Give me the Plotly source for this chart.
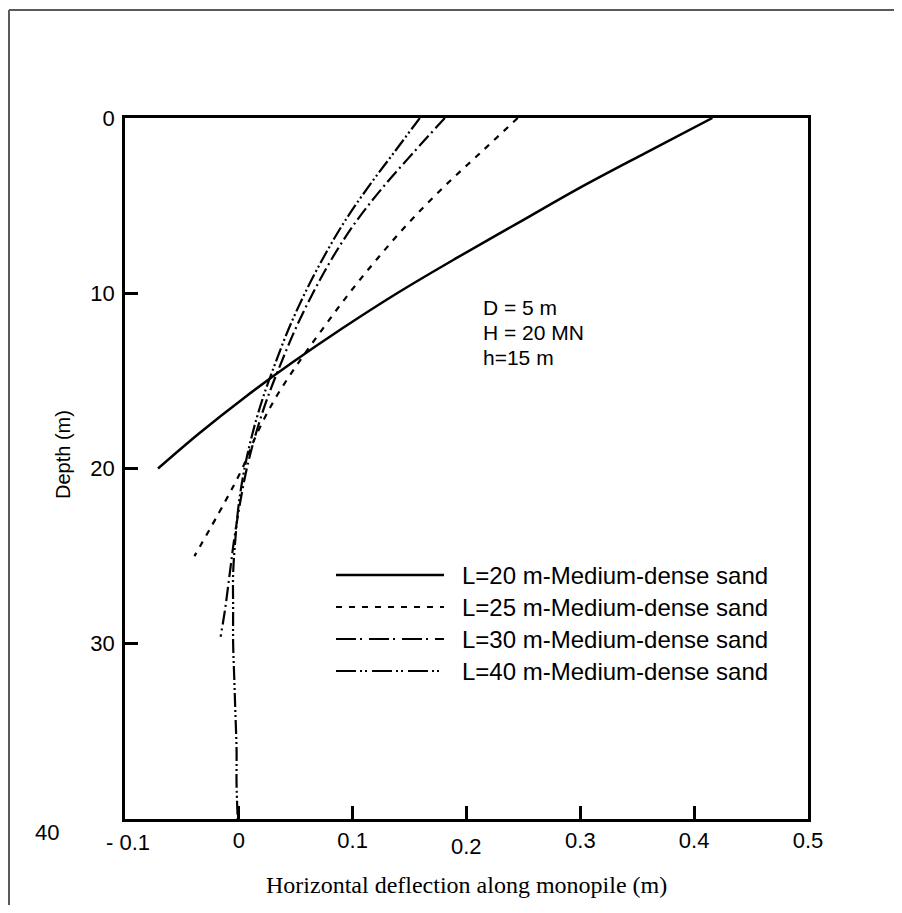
import plotly.graph_objects as go

# ---- data ----
depth_L20 = [0, 2, 4, 6, 8, 10, 12, 14, 16, 18, 20]
defl_L20 = [0.416, 0.357, 0.299, 0.245, 0.191, 0.139, 0.091, 0.046, 0.004, -0.035, -0.071]

depth_L25 = [0, 2, 4, 6, 8, 10, 12, 14, 16, 18, 20, 22, 25]
defl_L25 = [0.245, 0.212, 0.179, 0.149, 0.122, 0.097, 0.074, 0.052, 0.032, 0.016, 0.003, -0.013, -0.039]

depth_L30 = [0, 2, 4, 6, 8, 10, 12, 14, 16, 18, 20, 22, 24, 26, 28, 29.6]
defl_L30 = [0.181, 0.153, 0.126, 0.102, 0.082, 0.065, 0.050, 0.037, 0.025, 0.015, 0.007, 0.001,
            -0.004, -0.008, -0.012, -0.016]

depth_L40 = [0, 2, 4, 6, 8, 10, 12, 14, 16, 18, 20, 22, 24, 26, 28, 30, 32, 34, 36, 38, 40]
defl_L40 = [0.159, 0.136, 0.113, 0.092, 0.074, 0.058, 0.044, 0.032, 0.021, 0.012, 0.005, 0.000,
            -0.003, -0.005, -0.005, -0.005, -0.004, -0.003, -0.002, -0.002, -0.001]

series_names = ["L=20 m-Medium-dense sand", "L=25 m-Medium-dense sand",
                "L=30 m-Medium-dense sand", "L=40 m-Medium-dense sand"]

x_tickvals = [-0.1, 0, 0.1, 0.2, 0.3, 0.4, 0.5]
x_ticktext = ["", "0", "0.1", "", "0.3", "0.4", "0.5"]
y_tickvals = [0, 10, 20, 30, 40]
y_ticktext = ["0", "10", "20", "30", ""]

info_lines = ["D = 5 m", "H = 20 MN", "h=15 m"]

# ---- figure (page body has an 8px margin, so figure = window - 16) ----
W, H = 886, 897
L, T = 117, 110
pw, ph = 683, 701
R, B = W - L - pw, H - T - ph
OFF = 8


def px2paper_x(px):
    return (px - OFF - L) / pw


def px2paper_y(py):
    return (H - B - (py - OFF)) / ph


dashes = ["solid", "6px,7px", "14px,4px,2px,4px", "14px,3px,2px,3px,2px,3px"]
legend_dashes = ["solid", "6px,7px", "20px,4px,2px,7px", "20px,4px,2px,3px,2px,5px"]
widths = [2.5, 2.2, 2.2, 2.2]

fig = go.Figure()
for xs, ys, name, dsh, w in zip([defl_L20, defl_L25, defl_L30, defl_L40],
                                [depth_L20, depth_L25, depth_L30, depth_L40],
                                series_names, dashes, widths):
    fig.add_trace(go.Scatter(x=xs, y=ys, mode="lines", name=name, showlegend=False,
                             line=dict(color="black", width=w, dash=dsh, shape="spline")))

shapes = []
annotations = []

# manual legend
leg_rows = [575, 607, 639, 671]
for name, dsh, w, yy in zip(series_names, legend_dashes, widths, leg_rows):
    shapes.append(dict(type="line", xref="paper", yref="paper",
                       x0=px2paper_x(336), x1=px2paper_x(444),
                       y0=px2paper_y(yy), y1=px2paper_y(yy),
                       line=dict(color="black", width=w, dash=dsh)))
    annotations.append(dict(text=name, xref="paper", yref="paper",
                            x=px2paper_x(460), y=px2paper_y(yy), xanchor="left", yanchor="middle",
                            showarrow=False, font=dict(family="Arial", size=24, color="black")))

# parameter text
for txt, yy in zip(info_lines, [307, 332, 357]):
    annotations.append(dict(text=txt, xref="paper", yref="paper",
                            x=px2paper_x(481), y=px2paper_y(yy), xanchor="left", yanchor="middle",
                            showarrow=False, font=dict(family="Arial", size=21, color="black")))

# odd-placed tick labels
annotations.append(dict(text="40", xref="paper", yref="paper", x=px2paper_x(47), y=px2paper_y(832),
                        xanchor="center", yanchor="middle", showarrow=False,
                        font=dict(family="Arial", size=22, color="black")))
annotations.append(dict(text="- 0.1", xref="paper", yref="paper", x=px2paper_x(104), y=px2paper_y(842),
                        xanchor="left", yanchor="middle", showarrow=False,
                        font=dict(family="Arial", size=22, color="black")))
annotations.append(dict(text="0.2", xref="x", yref="paper", x=0.2, y=px2paper_y(847),
                        xanchor="center", yanchor="middle", showarrow=False,
                        font=dict(family="Arial", size=22, color="black")))

# axis titles
annotations.append(dict(text="Horizontal deflection along monopile (m)", xref="paper", yref="paper",
                        x=px2paper_x(466), y=px2paper_y(885), xanchor="center", yanchor="middle",
                        showarrow=False, font=dict(family="Times New Roman", size=24, color="black")))
annotations.append(dict(text="Depth (m)", xref="paper", yref="paper",
                        x=px2paper_x(63), y=px2paper_y(455), xanchor="center", yanchor="middle",
                        textangle=-90, showarrow=False,
                        font=dict(family="Arial", size=20, color="black")))

# outer frame (left and top edges only are inside the picture)
frame = dict(color="#5a5a5a", width=2)
shapes.append(dict(type="line", xref="paper", yref="paper",
                   x0=px2paper_x(9), x1=px2paper_x(9), y0=px2paper_y(10), y1=px2paper_y(913),
                   line=frame, layer="below"))
shapes.append(dict(type="line", xref="paper", yref="paper",
                   x0=px2paper_x(9), x1=px2paper_x(902), y0=px2paper_y(10), y1=px2paper_y(10),
                   line=frame, layer="below"))

fig.update_layout(
    width=W, height=H,
    margin=dict(l=L, r=R, t=T, b=B, autoexpand=False),
    paper_bgcolor="white", plot_bgcolor="white",
    showlegend=False,
    shapes=shapes, annotations=annotations,
    xaxis=dict(range=[-0.1, 0.5], tickvals=x_tickvals, ticktext=x_ticktext,
               showline=True, mirror=True, linecolor="black", linewidth=2.5,
               ticks="inside", ticklen=13, tickwidth=2.5, tickcolor="black",
               showgrid=False, zeroline=False, ticklabelstandoff=0,
               tickfont=dict(family="Arial", size=22, color="black")),
    yaxis=dict(range=[40, 0], tickvals=y_tickvals, ticktext=y_ticktext,
               showline=True, mirror=True, linecolor="black", linewidth=2.5,
               ticks="inside", ticklen=13, tickwidth=2.5, tickcolor="black",
               showgrid=False, zeroline=False, ticklabelstandoff=3,
               tickfont=dict(family="Arial", size=22, color="black")),
)

fig.write_html("out.html")
